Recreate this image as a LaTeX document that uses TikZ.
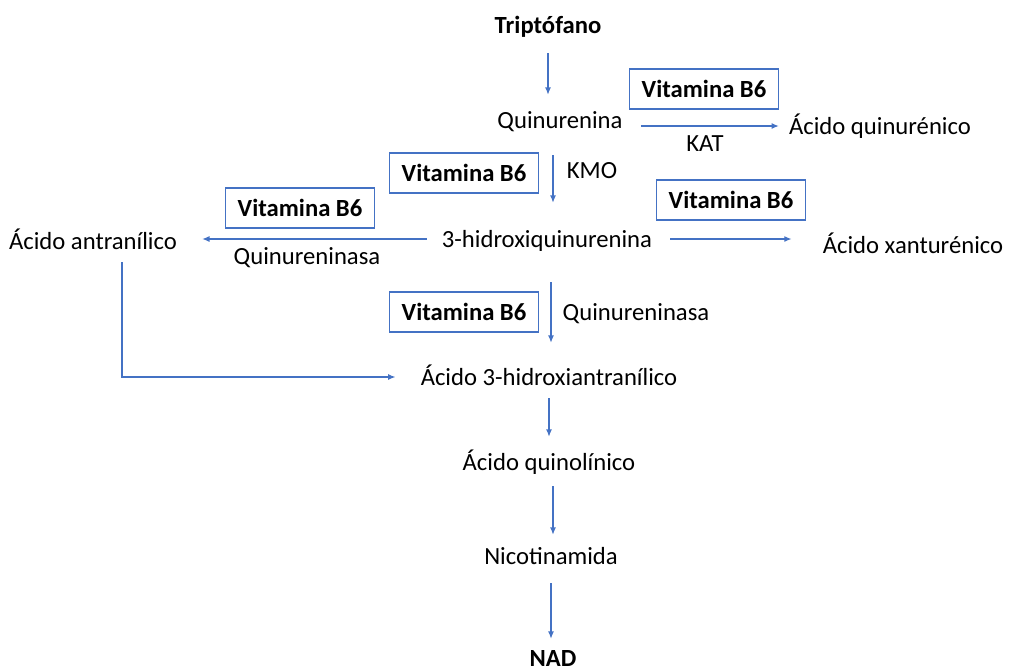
\documentclass[tikz,border=0pt]{standalone}
\usepackage{fontspec}
\setmainfont{Carlito}
\usetikzlibrary{positioning,arrows.meta}
\definecolor{officeblue}{HTML}{4472C4}

\begin{document}
\begin{tikzpicture}[x=0.75pt,y=-0.75pt,
						metabolite/.style={font=\fontsize{18.5}{22}\selectfont, inner sep=0pt, text height=15pt, text depth=3pt},
						endpoint/.style={metabolite, font=\fontsize{18.5}{22}\selectfont\bfseries},
						enzyme/.style={metabolite},
						cofactor/.style={draw=officeblue, line width=1.1pt, font=\fontsize{18.5}{22}\selectfont\bfseries, minimum width=112pt, minimum height=30pt, inner sep=0pt},
						flow/.style={draw=officeblue, line width=0.9pt, -{Latex[length=5.5pt,width=4.5pt]}},
						]
						\useasboundingbox (0,0) rectangle (1009,671);
						%Nodes
						\node[endpoint]		(trp)		at	(548,25)	{Triptófano};
						\node[metabolite]	(kyn)		at	(560,120)	{Quinurenina};
						\node[metabolite]	(kyna)		at	(880,126)	{Ácido quinurénico};
						\node[metabolite]	(hk)		at	(547,239)	{3-hidroxiquinurenina};
						\node[metabolite]	(aa)		at	(93,241)	{Ácido antranílico};
						\node[metabolite]	(xa)		at	(913,245)	{Ácido xanturénico};
						\node[metabolite]	(haa)		at	(549,377)	{Ácido 3-hidroxiantranílico};
						\node[metabolite]	(qa)		at	(549,462)	{Ácido quinolínico};
						\node[metabolite]	(nam)		at	(551,556)	{Nicotinamida};
						\node[endpoint]		(nad)		at	(553,658)	{NAD};

						%Cofactors
						\node[cofactor]		(b6kat)		at	(704,89)	{Vitamina B6};
						\node[cofactor]		(b6kmo)		at	(464,173)	{Vitamina B6};
						\node[cofactor]		(b6aa)		at	(300,208)	{Vitamina B6};
						\node[cofactor]		(b6xa)		at	(731,200)	{Vitamina B6};
						\node[cofactor]		(b6haa)		at	(464,312)	{Vitamina B6};

						%Enzymes
						\node[enzyme]		(kat)		at	(705,143)	{KAT};
						\node[enzyme]		(kmo)		at	(592,170)	{KMO};
						\node[enzyme]		(kynu1)		at	(307,256)	{Quinureninasa};
						\node[enzyme]		(kynu2)		at	(636,312)	{Quinureninasa};

						%Lines
						\draw[flow, shorten <=12pt, shorten >=9.75pt] (trp.south) -- (trp.south |- kyn.north);
						\draw[flow, shorten <=13.5pt, shorten >=7.5pt] (kyn.east |- kyna.west) -- (kyna.west);
						\draw[flow, shorten <=17.25pt, shorten >=18pt] ([xshift=-5.25pt]kyn.south) -- ([xshift=-5.25pt]kyn.south |- hk.north);
						\draw[flow, shorten <=11.25pt, shorten >=18.75pt] (hk.west) -- (hk.west -| aa.east);
						\draw[flow, shorten <=13.5pt, shorten >=23.25pt] (hk.east) -- (hk.east -| xa.west);
						\draw[flow, shorten <=23.25pt, shorten >=16.5pt] ([xshift=3pt]hk.south) -- ([xshift=3pt]hk.south |- haa.north);
						\draw[flow, shorten <=6.75pt, shorten >=18.75pt] ([xshift=21.75pt]aa.south) |- (haa.west);
						\draw[flow, shorten <=6.75pt, shorten >=9.75pt] (haa.south) -- (haa.south |- qa.north);
						\draw[flow, shorten <=9pt, shorten >=6.75pt] ([xshift=3pt]qa.south) -- ([xshift=3pt]qa.south |- nam.north);
						\draw[flow, shorten <=11.25pt, shorten >=5.25pt] (nam.south) -- (nam.south |- nad.north);
					\end{tikzpicture}
\end{document}
